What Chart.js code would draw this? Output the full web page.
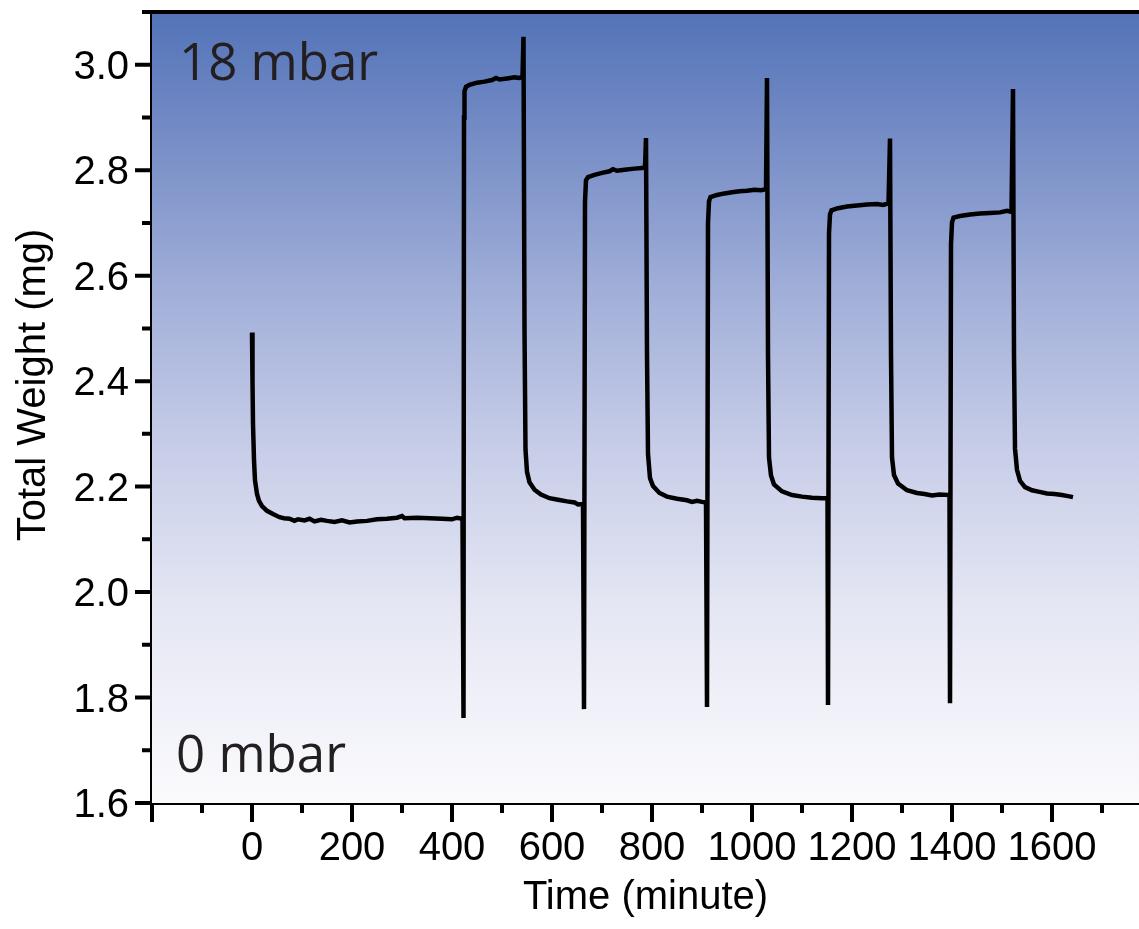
<!DOCTYPE html>
<html><head><meta charset="utf-8">
<script src="https://cdn.jsdelivr.net/npm/chart.js@4.4.0/dist/chart.umd.min.js"></script>
<style>html,body{margin:0;padding:0;background:#fff;overflow:hidden}#wrap{width:1139px;height:929px;position:relative}</style>
</head><body><div id="wrap"><canvas id="c" width="1139" height="929"></canvas></div>
<script>
// ---- data ----
const timeMin = [
  0,1,2,4,6,10,14,20,30,42,55,64,75,85,92,105,115,125,138,150,165,180,195,210,230,250,270,290,300,305,330,355,380,400,410,421,
  423,424,425,428,435,450,465,480,488,495,510,525,535,541,
  543,545,547,550,555,565,578,595,612,630,645,652,662,
  664,666,668,672,685,700,715,722,730,745,765,780,786,
  788,790,792,796,802,815,830,850,870,880,890,900,908,
  910,912,914,917,930,945,960,975,990,1005,1018,1028,
  1030,1032,1034,1038,1044,1060,1080,1100,1120,1140,1151,
  1152,1154,1156,1159,1172,1190,1210,1230,1250,1262,1273,
  1276,1278,1280,1284,1292,1310,1330,1345,1360,1375,1395,
  1396,1398,1400,1403,1416,1436,1456,1476,1496,1510,1519,
  1522,1524,1526,1530,1536,1546,1560,1575,1590,1605,1620,1632,1642
];
const weightMg = [
  2.492,2.40,2.32,2.25,2.212,2.186,2.173,2.163,2.154,2.148,2.142,2.140,2.139,2.135,2.138,2.136,2.139,2.134,2.137,2.135,2.133,2.136,2.132,2.134,2.135,2.138,2.139,2.141,2.144,2.140,2.141,2.140,2.139,2.138,2.141,2.139,
  1.761,2.900,2.950,2.958,2.962,2.966,2.968,2.971,2.975,2.972,2.974,2.976,2.975,2.977,
  3.053,2.500,2.270,2.228,2.208,2.194,2.185,2.178,2.175,2.172,2.170,2.166,2.167,
  1.778,2.740,2.781,2.787,2.791,2.795,2.798,2.802,2.799,2.801,2.803,2.804,2.806,
  2.861,2.450,2.262,2.216,2.201,2.188,2.181,2.177,2.174,2.171,2.173,2.171,2.170,
  1.782,2.700,2.741,2.749,2.753,2.756,2.758,2.760,2.761,2.763,2.762,2.764,
  2.975,2.450,2.255,2.221,2.204,2.191,2.184,2.181,2.179,2.178,2.178,
  1.786,2.680,2.716,2.724,2.728,2.731,2.733,2.735,2.736,2.734,2.737,
  2.860,2.450,2.255,2.222,2.206,2.193,2.188,2.186,2.183,2.185,2.184,
  1.789,2.660,2.701,2.710,2.713,2.716,2.718,2.719,2.720,2.723,2.721,
  2.954,2.450,2.272,2.232,2.211,2.199,2.193,2.190,2.187,2.186,2.184,2.182,2.180
];
const xTickValues = [-200,0,200,400,600,800,1000,1200,1400,1600];
const xTickLabels = ['', '0', '200', '400', '600', '800', '1000', '1200', '1400', '1600'];
const xMinorTicks = [-100,100,300,500,700,900,1100,1300,1500,1700];
const yTickValues = [1.6,1.8,2.0,2.2,2.4,2.6,2.8,3.0];
const yTickLabels = ['1.6','1.8','2.0','2.2','2.4','2.6','2.8','3.0'];
const yMinorTicks = [1.7,1.9,2.1,2.3,2.5,2.7,2.9,3.1];
const xTitle = 'Time (minute)';
const yTitle = 'Total Weight (mg)';
const topLabel = '18 mbar';
const bottomLabel = '0 mbar';

const AXIS_FONT = '"Liberation Sans", Arial, sans-serif';

const decor = {
  id: 'decor',
  beforeDatasetsDraw(chart) {
    const {ctx, chartArea: a} = chart;
    const g = ctx.createLinearGradient(0, a.top, 0, a.bottom);
    g.addColorStop(0, 'rgb(82,115,184)');
    g.addColorStop(0.15, 'rgb(116,139,197)');
    g.addColorStop(0.35, 'rgb(160,174,216)');
    g.addColorStop(0.55, 'rgb(199,205,232)');
    g.addColorStop(0.75, 'rgb(228,230,243)');
    g.addColorStop(1, 'rgb(251,251,253)');
    ctx.save();
    ctx.fillStyle = g;
    ctx.fillRect(a.left, a.top, a.right - a.left, a.bottom - a.top);
    ctx.fillStyle = '#231f20';
    ctx.font = '51px "Open Sans", "Noto Sans", sans-serif';
    ctx.textBaseline = 'alphabetic';
    ctx.textAlign = 'left';
    ctx.fillText(topLabel, a.left + 27, a.top + 68);
    ctx.fillText(bottomLabel, a.left + 24, a.bottom - 31);
    ctx.restore();
  },
  afterDraw(chart) {
    const {ctx, chartArea: a, scales: {x, y}} = chart;
    ctx.save();
    ctx.strokeStyle = '#000';
    ctx.lineWidth = 4;
    ctx.lineCap = 'butt';
    ctx.beginPath();
    ctx.moveTo(a.left, a.top); ctx.lineTo(a.right, a.top);
    yTickValues.forEach(v => { const p = y.getPixelForValue(v); ctx.moveTo(a.left - 17, p); ctx.lineTo(a.left, p); });
    yMinorTicks.forEach(v => { const p = y.getPixelForValue(v); ctx.moveTo(a.left - 10, p); ctx.lineTo(a.left, p); });
    xTickValues.forEach(v => { const p = x.getPixelForValue(v); ctx.moveTo(p, a.bottom); ctx.lineTo(p, a.bottom + 19); });
    xMinorTicks.forEach(v => { const p = x.getPixelForValue(v); ctx.moveTo(p, a.bottom); ctx.lineTo(p, a.bottom + 10); });
    ctx.stroke();
    ctx.fillStyle = '#000';
    ctx.font = '40px ' + AXIS_FONT;
    // x tick labels
    ctx.textAlign = 'center';
    ctx.textBaseline = 'alphabetic';
    xTickValues.forEach((v, i) => ctx.fillText(xTickLabels[i], x.getPixelForValue(v), a.bottom + 57));
    // y tick labels
    ctx.textAlign = 'right';
    ctx.textBaseline = 'alphabetic';
    yTickValues.forEach((v, i) => ctx.fillText(yTickLabels[i], a.left - 23, y.getPixelForValue(v) + 14));
    // y title
    ctx.textAlign = 'center';
    ctx.textBaseline = 'middle';
    ctx.translate(34, 385);
    ctx.rotate(-Math.PI / 2);
    ctx.fillText(yTitle, 0, 0);
    ctx.restore();
  }
};

new Chart(document.getElementById('c'), {
  type: 'scatter',
  data: {
    datasets: [{
      data: timeMin.map((t, i) => ({x: t, y: weightMg[i]})),
      showLine: true,
      borderColor: '#000',
      borderWidth: 4.5,
      pointRadius: 0,
      pointHoverRadius: 0,
      tension: 0,
      fill: false
    }]
  },
  options: {
    responsive: false,
    animation: false,
    devicePixelRatio: 1,
    layout: {padding: {top: 12, right: 0, left: 0, bottom: 0}},
    plugins: {legend: {display: false}, tooltip: {enabled: false}},
    scales: {
      x: {
        type: 'linear', position: 'bottom', min: -200, max: 1774,
        afterFit(s) { s.height = 126; s.paddingLeft = 0; s.paddingRight = 0; },
        ticks: {display: false},
        grid: {display: false, drawTicks: false},
        border: {display: true, width: 4, color: '#000'},
        title: {display: true, text: xTitle, color: '#000', font: {family: AXIS_FONT, size: 40}, padding: {top: 0, bottom: 7}}
      },
      y: {
        type: 'linear', position: 'left', min: 1.6, max: 3.1,
        afterFit(s) { s.width = 152; s.paddingTop = 0; s.paddingBottom = 0; },
        ticks: {display: false},
        grid: {display: false, drawTicks: false},
        border: {display: true, width: 4, color: '#000'}
      }
    }
  },
  plugins: [decor]
});
</script></body></html>
